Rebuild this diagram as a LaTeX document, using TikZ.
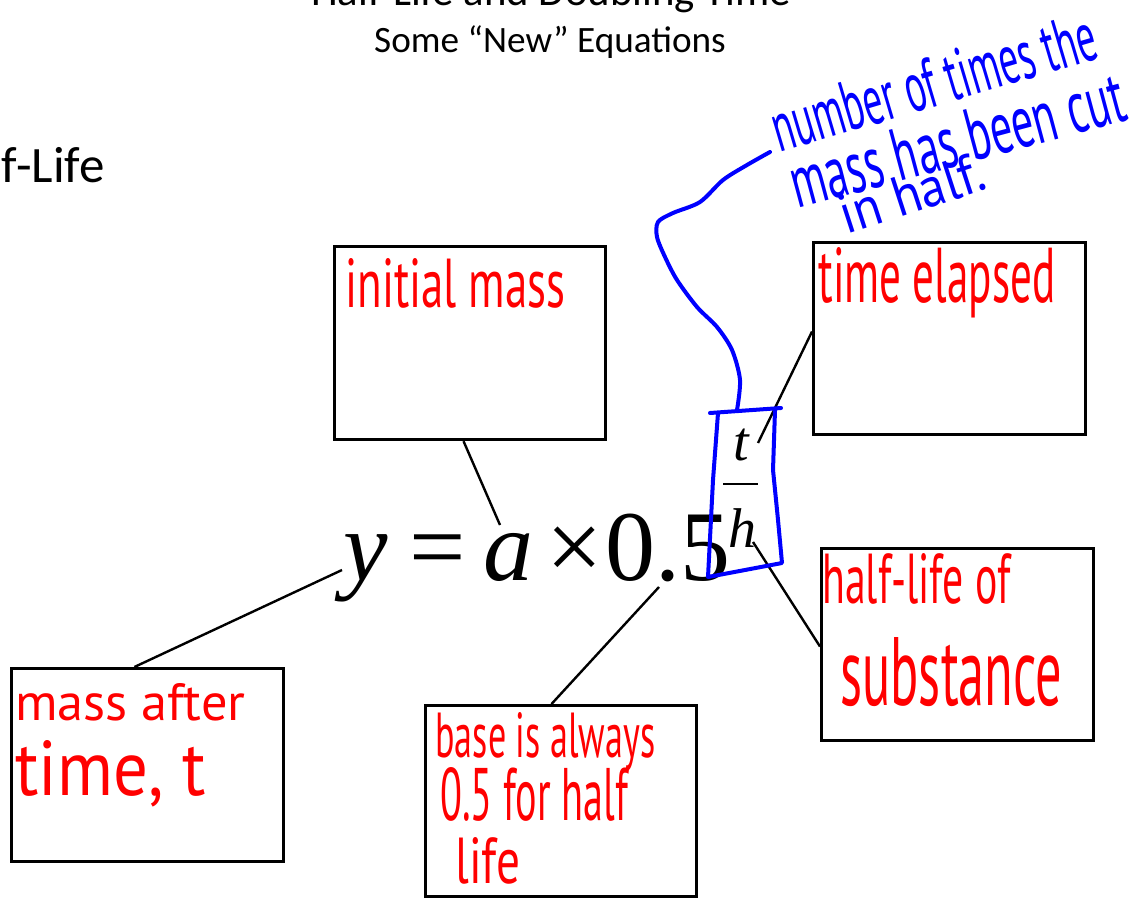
\documentclass[tikz,border=0pt]{standalone}
\usepackage{fontspec}
\usepackage{graphicx}
\usetikzlibrary{calc}
\setmainfont{Carlito}
\newfontfamily\eqfont{Liberation Serif}
\newfontfamily\hwfont{PT Sans}
\definecolor{inkred}{RGB}{255,0,0}
\definecolor{inkblue}{RGB}{0,0,255}
\newcommand{\hwtext}[3]{\resizebox{#1}{#2}{\hwfont #3}}
\begin{document}
\begin{tikzpicture}[x=0.5pt,y=-0.5pt,
  box/.style={draw=black, line width=1.6pt, anchor=north west, inner sep=0pt},
  lead/.style={draw=black, line width=1.2pt},
  ink/.style={draw=inkblue, line width=2pt, line cap=round, line join=round},
  hwred/.style={text=inkred, inner sep=0pt, anchor=base west},
  hwblue/.style={text=inkblue, inner sep=0pt, anchor=base west},
  eqbig/.style={inner sep=0pt, anchor=base west, font=\eqfont\fontsize{50pt}{50pt}\selectfont},
  eqsmall/.style={inner sep=0pt, anchor=base west, font=\eqfont\fontsize{28pt}{28pt}\selectfont},
  title/.style={inner sep=0pt, anchor=base}]
\useasboundingbox (0,0) rectangle (1138,898);
\clip (0,0) rectangle (1138,898);

% titles
\node[title, font=\fontsize{21.4pt}{25pt}\selectfont] (t1) at (551,6) {Half-Life and Doubling Time};
\node[title, font=\fontsize{18.6pt}{22pt}\selectfont] (t2) at (550,53) {Some “New” Equations};
\node[inner sep=0pt, anchor=base east, font=\fontsize{25.5pt}{30pt}\selectfont] (t3) at (105,183) {Half-Life};

% boxes
\node[box, minimum width=136pt, minimum height=96.5pt] (massbox) at (10,667) {};
\node[box, minimum width=135.5pt, minimum height=96.5pt] (initbox) at (333,245) {};
\node[box, minimum width=136pt, minimum height=96pt] (timebox) at (812,241) {};
\node[box, minimum width=136pt, minimum height=96pt] (halfbox) at (820,547) {};
\node[box, minimum width=135.5pt, minimum height=95.5pt] (basebox) at (424,704) {};

% equation
\node[eqbig] (ey) at (343,580) {\itshape y};
\node[eqbig] (eeq) at (409,580) {=};
\node[eqbig] (ea) at (483,580) {\itshape a};
\node[eqbig] (etimes) at (546,580) {×};
\node[eqbig] (ebase) at (605,580) {0.5};
\node[eqsmall] (et) at (733,460) {\itshape t};
\node[eqsmall] (eh) at (728,547) {\itshape h};
\draw[line width=0.8pt] (723,484) -- (758,484);

% connector end points on the equation
\coordinate (yTail) at (342,570);
\coordinate (aTop) at (500,525);
\coordinate (dotLow) at (659,587);
\coordinate (tRight) at (758,443);
\coordinate (hRight) at (753,542);

% connectors
\draw[lead] ($(massbox.north west)!0.452!(massbox.north east)$) -- (yTail);
\draw[lead] ($(initbox.south west)!0.476!(initbox.south east)$) -- (aTop);
\draw[lead] ($(basebox.north west)!0.465!(basebox.north east)$) -- (dotLow);
\draw[lead] ($(timebox.north west)!0.464!(timebox.south west)$) -- (tRight);
\draw[lead] ($(halfbox.north west)!0.51!(halfbox.south west)$) -- (hRight);

% red handwriting
\node[hwred] (l1) at (345,307) {\hwtext{110pt}{24.5pt}{initial mass}};
\node[hwred] (l2) at (818,302) {\hwtext{118.5pt}{27.5pt}{time elapsed}};
\node[hwred] (l3) at (822,603) {\hwtext{94pt}{25pt}{half-life of}};
\node[hwred] (l4) at (840,705) {\hwtext{111pt}{34pt}{substance}};
\node[hwred] (l5) at (435,757) {\hwtext{110pt}{22.5pt}{base is always}};
\node[hwred] (l6) at (440,820) {\hwtext{94pt}{26.5pt}{0.5 for half}};
\node[hwred] (l7) at (455,883) {\hwtext{32.5pt}{23pt}{life}};
\node[hwred] (l8) at (15,720) {\hwtext{115pt}{18.5pt}{mass after}};
\node[hwred] (l9) at (15,795) {\hwtext{95pt}{27.5pt}{time, t}};

% blue note
\node[hwblue, rotate=16.5] (b1) at (779,153) {\hwtext{168pt}{25pt}{number of times the}};
\node[hwblue, rotate=15] (b2) at (797,209) {\hwtext{172pt}{26pt}{mass has been cut}};
\node[hwblue, rotate=18] (b3) at (846,235) {\hwtext{75pt}{20pt}{in half.}};

% blue bracket around exponent
\draw[ink] (710,413) -- (781,408);
\draw[ink] (718,413) -- (713,480) -- (708,577) -- (782,563) -- (778,520) -- (773,470) -- (775,410);
\draw[ink] plot[smooth, tension=0.5] coordinates {(770,152) (747,165) (723,180) (700,202) (673,213) (658,222) (657,237) (665,257) (677,280) (697,307) (717,327) (732,350) (740,380) (737,410)};
\end{tikzpicture}
\end{document}
